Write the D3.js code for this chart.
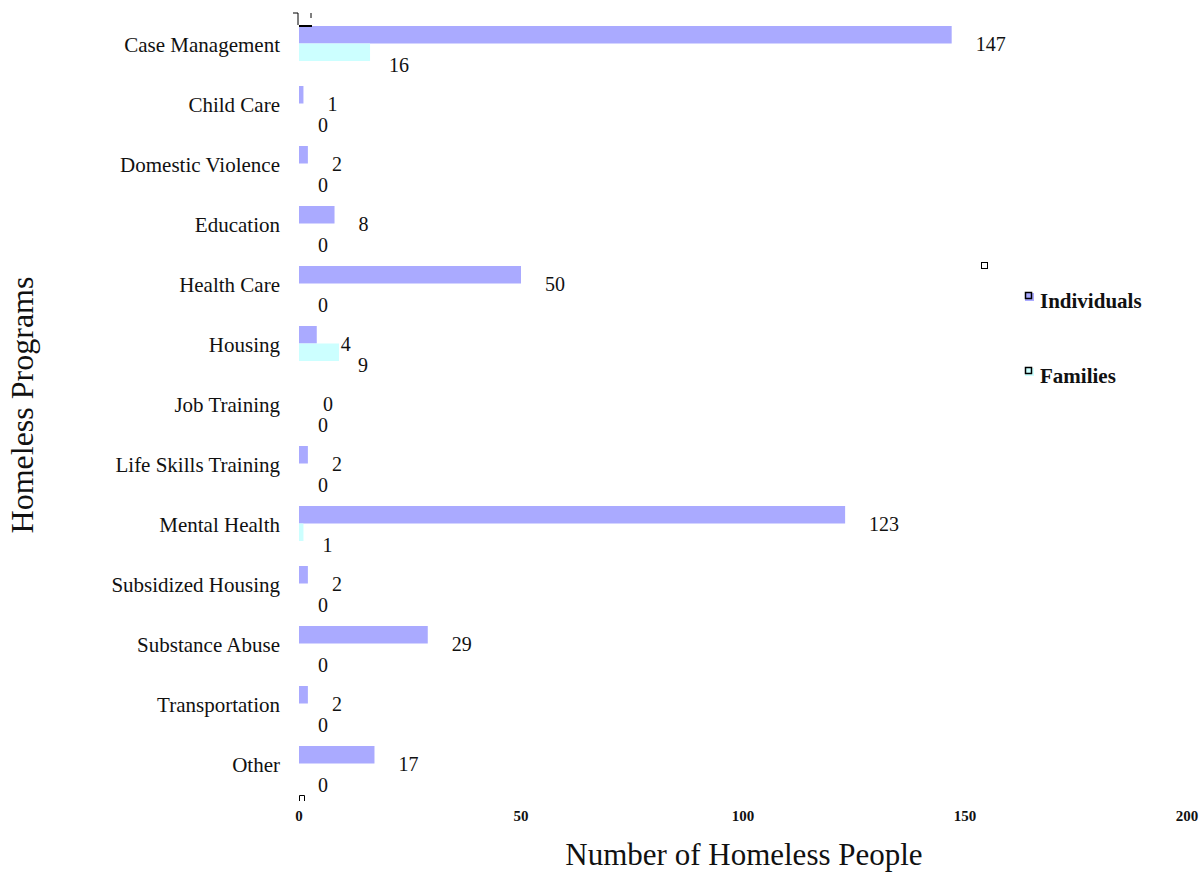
<!DOCTYPE html>
<html><head><meta charset="utf-8">
<script src="https://cdn.jsdelivr.net/npm/d3@7"></script>
<style>body{margin:0;background:#fff}svg{display:block}</style>
</head><body>
<svg id="c" width="1202" height="873"></svg>
<script>
const categories = ["Case Management","Child Care","Domestic Violence","Education","Health Care","Housing","Job Training","Life Skills Training","Mental Health","Subsidized Housing","Substance Abuse","Transportation","Other"];
const individuals = [147,1,2,8,50,4,0,2,123,2,29,2,17];
const families = [16,0,0,0,0,9,0,0,1,0,0,0,0];
const seriesNames = ["Individuals","Families"];
const seriesColors = ["#aaaaff","#ccffff"];
const xTicks = [0,50,100,150,200];

const svg = d3.select("#c");
const font = "'Liberation Serif','Times New Roman',serif";
const x = d3.scaleLinear().domain([0,200]).range([299,1187]);
const y0 = d3.scaleBand().domain(categories).range([15,795]).padding(0);
const y1 = d3.scaleBand().domain(seriesNames).range([11,46]);
const data = categories.map((c,i)=>({cat:c, vals:[individuals[i], families[i]]}));

const g = svg.append("g");
const grp = g.selectAll("g.cat").data(data).join("g").attr("transform", d=>`translate(0,${y0(d.cat)})`);
grp.selectAll("rect").data(d=>d.vals.map((v,j)=>({v, s:seriesNames[j], j}))).join("rect")
  .attr("x", x(0)).attr("y", d=>y1(d.s)).attr("width", d=>x(d.v)-x(0)).attr("height", y1.bandwidth())
  .attr("fill", d=>seriesColors[d.j]);
grp.selectAll("text.val").data(d=>d.vals.map((v,j)=>({v, s:seriesNames[j], j}))).join("text")
  .attr("class","val")
  .attr("x", d=>x(d.v)+ (d.j===0?24:19))
  .attr("y", d=>y1(d.s)+y1.bandwidth()/2 + (d.j===0?16:20))
  .attr("font-family", font).attr("font-size", 20).attr("fill","#111")
  .text(d=>d.v);

// category labels
g.selectAll("text.cat").data(categories).join("text").attr("class","cat")
  .attr("x", 280).attr("y", d=>y0(d)+y0.bandwidth()/2+7)
  .attr("text-anchor","end").attr("font-family", font).attr("font-size", 21).attr("fill","#111")
  .text(d=>d);

// x tick labels
g.selectAll("text.tick").data(xTicks).join("text").attr("class","tick")
  .attr("x", d=>x(d)).attr("y", 821).attr("text-anchor","middle")
  .attr("font-family", font).attr("font-size", 15).attr("font-weight","bold").attr("fill","#111")
  .text(d=>d);

// small axis remnants
g.append("path").attr("d", `M${x(0)-6},13 H${x(0)-1} V25`).attr("fill","none").attr("stroke","#000").attr("stroke-width",1);
g.append("line").attr("x1", x(0)+12).attr("x2", x(0)+12).attr("y1",13).attr("y2",18).attr("stroke","#000");
g.append("line").attr("x1", x(0)).attr("x2", x(0)+13).attr("y1",26).attr("y2",26).attr("stroke","#000").attr("stroke-width",2);
g.append("path").attr("d", `M${x(0)+0.5},801 V795.5 H${x(0)+5.5} V801`).attr("fill","none").attr("stroke","#000").attr("stroke-width",1);

// axis titles
svg.append("text").attr("x", 744).attr("y", 865).attr("text-anchor","middle")
  .attr("font-family", font).attr("font-size", 31).attr("fill","#111").text("Number of Homeless People");
svg.append("text").attr("transform","translate(33,405) rotate(-90)").attr("text-anchor","middle")
  .attr("font-family", font).attr("font-size", 32).attr("fill","#111").text("Homeless Programs");

// legend
svg.append("rect").attr("x",981.5).attr("y",262.5).attr("width",6).attr("height",6).attr("fill","#fff").attr("stroke","#000");
const leg = svg.selectAll("g.leg").data(seriesNames).join("g").attr("class","leg")
  .attr("transform",(d,i)=>`translate(1025,${296+i*75})`);
leg.append("rect").attr("x",0).attr("y",-3).attr("width",9).attr("height",8).attr("fill",(d,i)=>seriesColors[i]);
leg.append("rect").attr("x",0.5).attr("y",-3.5).attr("width",6).attr("height",6).attr("fill","none").attr("stroke","#000").attr("stroke-width",1.5);
leg.append("text").attr("x",15).attr("y",12).attr("font-family",font).attr("font-size",21).attr("font-weight","bold").attr("fill","#111").text(d=>d);
</script>
</body></html>
